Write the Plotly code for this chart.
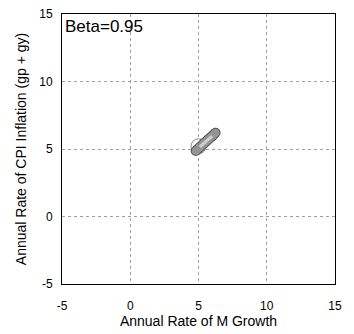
import plotly.graph_objects as go

# Data
draws_x = [4.8, 5.1, 5.4, 5.7, 6.0, 6.25]
draws_y = [4.85, 5.15, 5.45, 5.7, 5.95, 6.2]
point_x = [5.0]
point_y = [5.2]
x_ticks = [-5, 0, 5, 10, 15]
y_ticks = [-5, 0, 5, 10, 15]
label_text = "Beta=0.95"

FONT = "Liberation Sans, Arial, sans-serif"

fig = go.Figure()

fig.add_trace(go.Scatter(
    x=point_x, y=point_y, mode="markers",
    marker=dict(size=15, color="white", line=dict(color="#888888", width=1)),
    showlegend=False, hoverinfo="skip"))

fig.add_trace(go.Scatter(
    x=draws_x, y=draws_y, mode="lines+markers",
    line=dict(color="#505050", width=10),
    marker=dict(size=10, color="#505050"),
    showlegend=False, hoverinfo="skip"))
fig.add_trace(go.Scatter(
    x=draws_x, y=draws_y, mode="lines+markers",
    line=dict(color="#949494", width=8),
    marker=dict(size=8, color="#949494"),
    showlegend=False, hoverinfo="skip"))
fig.add_trace(go.Scatter(
    x=draws_x[1:-1], y=draws_y[1:-1], mode="lines",
    line=dict(color="#cfcfcf", width=3),
    showlegend=False, hoverinfo="skip"))

axis_common = dict(
    showgrid=True, gridcolor="#a0a0a0", griddash="3px,3px", gridwidth=1,
    zeroline=False, showline=True, linecolor="black", linewidth=1, mirror=True,
    ticks="", tickfont=dict(family=FONT, size=12, color="black"),
    title_font=dict(family=FONT, size=14, color="black"),
)

fig.update_xaxes(range=[-5, 15], tickvals=x_ticks, ticktext=[str(v) for v in x_ticks],
                 title_text="Annual Rate of M Growth", title_standoff=3,
                 ticklabelstandoff=11, **axis_common)
fig.update_yaxes(range=[-5, 15], tickvals=y_ticks, ticktext=[str(v) for v in y_ticks],
                 title_text="Annual Rate of CPI Inflation (gp + gy)", title_standoff=9,
                 ticklabelstandoff=6, **axis_common)

fig.add_annotation(x=0, y=1, xref="paper", yref="paper", xanchor="left", yanchor="top",
                   xshift=1, yshift=-1, text=label_text, showarrow=False,
                   font=dict(family=FONT, size=17, color="black"))

fig.update_layout(
    width=354, height=334,
    margin=dict(l=62, r=19, t=7, b=50),
    paper_bgcolor="white", plot_bgcolor="white",
)

fig.write_html("out.html")
